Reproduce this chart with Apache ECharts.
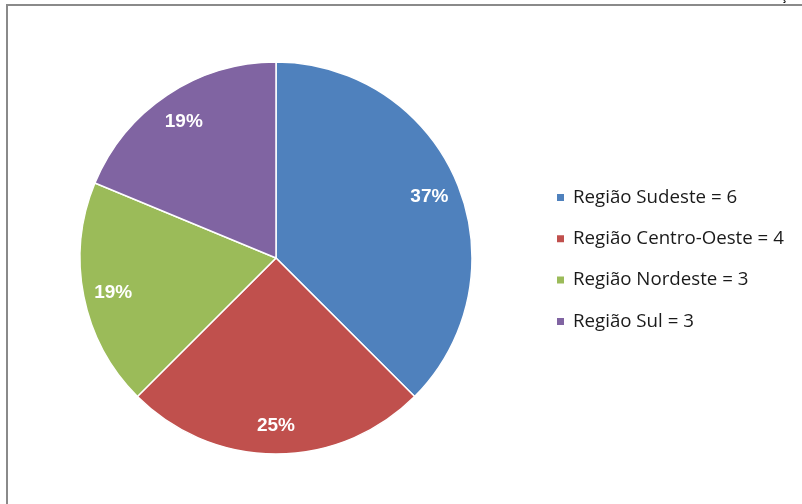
<!DOCTYPE html>
<html><head><meta charset="utf-8">
<script src="https://cdn.jsdelivr.net/npm/echarts@6/dist/echarts.min.js"></script>
<style>html,body{margin:0;padding:0;background:#fff}#c{width:802px;height:504px}</style>
</head><body><div id="c"></div>
<script>
const categories = ['Região Sudeste', 'Região Centro-Oeste', 'Região Nordeste', 'Região Sul'];
const values = [6, 4, 3, 3];
const colors = ['#4F81BD', '#C0504D', '#9BBB59', '#8064A2'];

const chart = echarts.init(document.getElementById('c'), null, {renderer: 'canvas'});
const data = categories.map((c, i) => ({name: c + ' = ' + values[i], value: values[i], itemStyle: {color: colors[i]}}));
const labelData = categories.map((c, i) => ({name: c + ' = ' + values[i], value: values[i]}));

chart.setOption({
  animation: false,
  backgroundColor: '#fff',
  graphic: [
    {type: 'rect', shape: {x: 7, y: 5, width: 900, height: 600}, style: {fill: 'none', stroke: '#8a8a8a', lineWidth: 2}, silent: true},
    {type: 'text', left: 781, top: -9, style: {text: 'ç', fill: '#000', font: 'bold 12px "Liberation Sans"'}, silent: true}
  ],
  legend: {
    orient: 'vertical',
    left: 555,
    top: 188,
    padding: 0,
    itemWidth: 9,
    itemHeight: 9,
    itemGap: 22.3,
    icon: 'rect',
    textStyle: {fontFamily: '"Open Sans"', fontSize: 18.7, lineHeight: 19, color: '#1a1a1a', padding: [0, 0, 0, 3]},
    data: data.map(d => d.name)
  },
  series: [
    {
      type: 'pie',
      center: [276, 258],
      radius: [0, 196],
      startAngle: 90,
      clockwise: true,
      label: {show: false},
      labelLine: {show: false},
      itemStyle: {borderColor: '#fff', borderWidth: 1.5},
      data: data,
      silent: true
    },
    {
      type: 'pie',
      center: [276, 260],
      radius: [0, 326],
      startAngle: 90,
      clockwise: true,
      label: {show: true, position: 'inside', formatter: '{d}%', color: '#fff', fontFamily: '"Liberation Sans"', fontWeight: 'bold', fontSize: 19},
      labelLine: {show: false},
      itemStyle: {color: 'rgba(0,0,0,0)'},
      emphasis: {disabled: true},
      legendHoverLink: false,
      percentPrecision: 0,
      data: labelData,
      silent: true,
      z: 3
    }
  ]
});
</script></body></html>
